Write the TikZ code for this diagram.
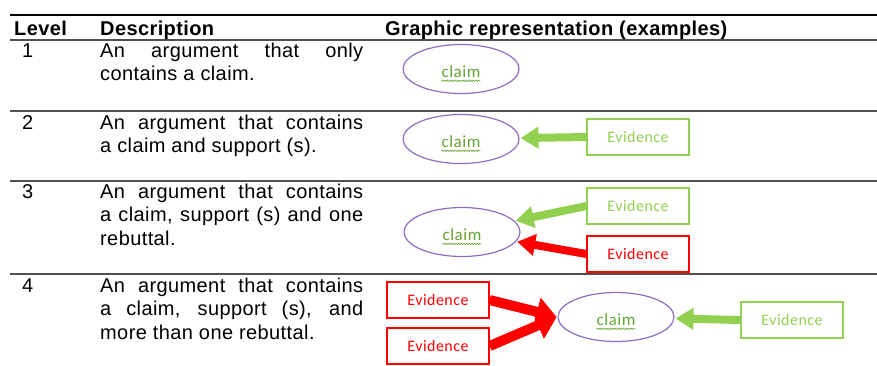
\documentclass[tikz,border=0pt]{standalone}
\usepackage{fontspec}
\setmainfont{Liberation Sans}[LetterSpace=2]
\newfontfamily\evfont{Carlito}[LetterSpace=3]
\usepackage{tikz}
\usepackage{xcolor}
\usetikzlibrary{arrows}
\usetikzlibrary{arrows.meta}
\usetikzlibrary{shapes}
\usetikzlibrary{decorations.pathmorphing}

\definecolor{argpurple}{RGB}{142,108,192}
\definecolor{evgreen}{RGB}{146,208,80}
\definecolor{evred}{RGB}{255,0,0}
\definecolor{claimgreen}{RGB}{100,165,50}
\definecolor{rulegray}{RGB}{80,80,80}

\tikzset{
  desc/.style={anchor=base west, inner sep=0pt, text width=263pt, align=justify,
    font=\fontsize{20}{23.5}\selectfont},
  head/.style={anchor=base west, inner sep=0pt, font=\fontsize{20}{23.5}\selectfont\bfseries},
  claimbox/.style={ellipse, draw=argpurple, line width=1.2pt, minimum width=116pt,
    minimum height=49pt, inner sep=0pt},
  claimtxt/.style={inner sep=0pt, text=claimgreen, font=\evfont\fontsize{17}{18}\selectfont},
  squig/.style={decorate, decoration={snake, amplitude=0.7pt, segment length=2.6pt},
    draw=claimgreen, line width=0.6pt},
  evbox/.style={rectangle, draw=#1, text=#1, line width=1.3pt, minimum width=102pt,
    minimum height=36pt, inner sep=0pt, font=\evfont\fontsize{16}{18}\selectfont},
  supp/.style={evgreen, line width=8pt, -{Triangle[length=18pt,width=21pt]}, shorten >=1pt},
  rebut/.style={evred, line width=8pt, -{Triangle[length=18pt,width=21pt]}, shorten >=1pt},
  rule/.style={rulegray, line width=1.6pt}
}

\begin{document}
\begin{tikzpicture}[x=1pt,y=-1pt]
\useasboundingbox (0,0) rectangle (877,365);
% table rules
\draw[line width=2.2pt] (10,15) -- (877,15);
\foreach \y in {40,111,181,274}
\draw[rule] (10,\y) -- (877,\y);
% header
\node[head] (hlevel) at (14,35) {Level};
\node[head] (hdesc) at (100,35) {Description};
\node[head] (hgraph) at (385,35) {Graphic representation (examples)};
% level numbers
\foreach \n/\y in {1/57,2/129,3/198,4/292}
\node[anchor=base west, inner sep=0pt, font=\fontsize{20}{23.5}\selectfont] (lv\n) at (22,\y) {\n};
% descriptions
\node[desc] (d1) at (100,57) {An argument that only\linebreak contains a claim.};
\node[desc] (d2) at (100,129) {An argument that contains\linebreak a claim and support (s).};
\node[desc] (d3) at (100,198) {An argument that contains\linebreak a claim, support (s) and one\linebreak rebuttal.};
\node[desc] (d4) at (100,292) {An argument that contains\linebreak a claim, support (s), and\linebreak more than one rebuttal.};

% level 1
\node[claimbox] (c1) at (461,69) {};
% level 2
\node[claimbox] (c2) at (461,139) {};
\node[evbox=evgreen] (g2) at (638,137) {Evidence};
\draw[supp] (g2.west) -- (c2);
% level 3
\node[claimbox] (c3) at (462,232) {};
\node[evbox=evgreen] (g3) at (638,206) {Evidence};
\node[evbox=evred] (r3) at (638,254) {Evidence};
\draw[supp] (g3.west) -- (c3);
\draw[rebut] (r3.west) -- (c3);
% level 4
\node[claimbox] (c4) at (616,317) {};
\node[evbox=evred] (r4a) at (438,300) {Evidence};
\node[evbox=evred] (r4b) at (438,346) {Evidence};
\node[evbox=evgreen] (g4) at (792,320) {Evidence};
\draw[rebut, line width=10pt, -{Triangle[length=20pt,width=28pt]}] (r4a.east) -- (c4.west);
\draw[rebut, line width=10pt, -{Triangle[length=20pt,width=28pt]}] (r4b.east) -- (c4.west);
\draw[supp] (g4.west) -- (c4);

% claim labels
\foreach \c in {c1,c2,c3,c4} {
\node[claimtxt] (t\c) at ([yshift=-3pt]\c.center) {claim};
\draw[squig] ([yshift=-3pt]t\c.base west) -- ([yshift=-3pt]t\c.base east);
}
\end{tikzpicture}
\end{document}
